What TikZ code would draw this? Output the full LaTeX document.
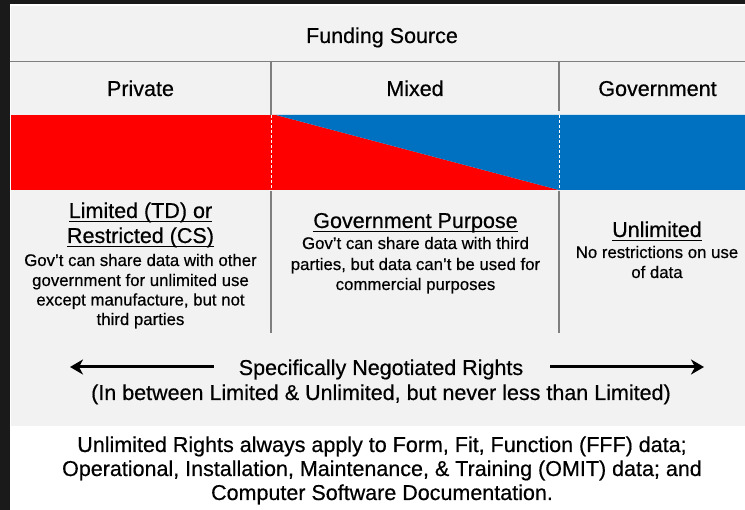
\documentclass[tikz,border=0pt]{standalone}
\usepackage{fontspec}
\setmainfont{Liberation Sans}[FakeBold=0.5]
\usetikzlibrary{arrows.meta}
\definecolor{panel}{HTML}{F2F2F2}
\definecolor{darkbg}{HTML}{1A1A1A}
\definecolor{rred}{HTML}{FF0000}
\definecolor{rblue}{HTML}{0070C0}
\definecolor{rulecol}{HTML}{7F7F7F}
\newcommand\myul[1]{\setbox0\hbox{#1}\rlap{\rule[-4pt]{\wd0}{1.4pt}}\box0}
\tikzset{
  big/.style={font=\fontsize{21.5}{25}\selectfont, inner sep=0pt, anchor=base, text=black},
  small/.style={font=\fontsize{16.8}{20}\selectfont, inner sep=0pt, anchor=base, text=black},
  divider/.style={draw=rulecol, line width=1.6pt},
  banddash/.style={draw=white, line width=0.8pt, dash pattern=on 3pt off 2pt},
  bigarrow/.style={line width=3pt, -{Stealth[length=13pt,width=15pt,inset=4pt]}}
}
\begin{document}
\begin{tikzpicture}[x=1pt,y=-1pt]
\useasboundingbox (0,0) rectangle (745,510);
% backgrounds
\fill[darkbg] (0,0) rectangle (745,510);
\fill[white] (10,4) rectangle (745,510);
\fill[panel] (11,6) rectangle (745,426);
% colour band
\fill[rred] (11,115) rectangle (271,190);
\fill[rred] (271,115) -- (276,115) -- (559,190) -- (271,190) -- cycle;
\fill[rblue] (276,115) -- (745,115) -- (745,190) -- (559,190) -- cycle;
\draw[banddash] (271,115) -- (271,190);
\draw[banddash] (559,115) -- (559,190);
% dividers
\draw[divider] (10,61.5) -- (745,61.5);
\draw[divider] (271,62) -- (271,115);
\draw[divider] (559,62) -- (559,111);
\draw[divider] (271,191) -- (271,333);
\draw[divider] (559,191) -- (559,333);
% header texts
\node[big] (fund) at (382,43) {Funding Source};
\node[big] (priv) at (140.5,96) {Private};
\node[big] (mix) at (415,96) {Mixed};
\node[big] (gov) at (657.5,96) {Government};
% column 1
\node[big] (c1h1) at (140.5,218) {\myul{Limited (TD) or}};
\node[big] (c1h2) at (140.5,243) {\myul{Restricted (CS)}};
\node[small] (c1b1) at (140.5,266) {Gov’t can share data with other};
\node[small] (c1b2) at (140.5,286) {government for unlimited use};
\node[small] (c1b3) at (140.5,305.5) {except manufacture, but not};
\node[small] (c1b4) at (140.5,325) {third parties};
% column 2
\node[big] (c2h) at (415.5,228) {\myul{Government Purpose}};
\node[small] (c2b1) at (415.5,249) {Gov’t can share data with third};
\node[small] (c2b2) at (415.5,270) {parties, but data can’t be used for};
\node[small] (c2b3) at (415.5,290) {commercial purposes};
% column 3
\node[big] (c3h) at (657,237) {\myul{Unlimited}};
\node[small] (c3b1) at (657,258) {No restrictions on use};
\node[small] (c3b2) at (657,278) {of data};
% negotiated rights
\node[big] (snr) at (381,375) {Specifically Negotiated Rights};
\node[big] (snr2) at (381,400) {(In between Limited \& Unlimited, but never less than Limited)};
\coordinate (ls) at (214,367);
\coordinate (la) at (70,367);
\coordinate (rs) at (550,367);
\coordinate (ra) at (704,367);
\draw[bigarrow] (ls) -- (la);
\draw[bigarrow] (rs) -- (ra);
% bottom note
\node[big] (n1) at (382,452) {Unlimited Rights always apply to Form, Fit, Function (FFF) data;};
\node[big] (n2) at (382,476) {Operational, Installation, Maintenance, \& Training (OMIT) data; and};
\node[big] (n3) at (382,500) {Computer Software Documentation.};
\end{tikzpicture}
\end{document}
